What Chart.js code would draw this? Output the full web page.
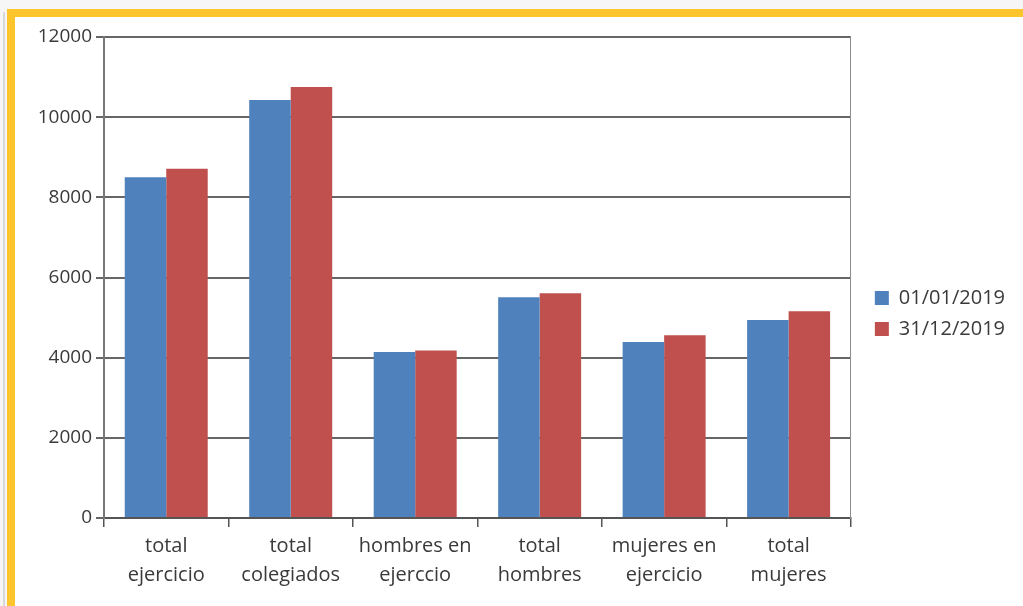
<!DOCTYPE html>
<html>
<head>
<meta charset="utf-8">
<script src="https://cdn.jsdelivr.net/npm/chart.js@4.4.1/dist/chart.umd.min.js"></script>
<style>
    html, body { margin: 0; padding: 0; }
    body { width: 1023px; height: 606px; background: #f6f6f6; overflow: hidden; position: relative; }
    #frame {
        position: absolute; left: 7px; top: 9px; width: 1016px; height: 597px;
        box-sizing: border-box; border-top: 8px solid #fdc52d; border-left: 8px solid #fdc52d;
        background: #fff;
    }
    #edge { position: absolute; left: 3px; top: 12px; width: 2px; height: 594px; background: #d8d8d8; }
    #wrap { position: absolute; left: 16px; top: 17px; width: 1007px; height: 589px; }
</style>
</head>
<body>
<div id="edge"></div>
<div id="frame"></div>
<div id="wrap"><canvas id="chart"></canvas></div>
<script>
const categories = [
    ["total", "ejercicio"],
    ["total", "colegiados"],
    ["hombres en", "ejerccio"],
    ["total", "hombres"],
    ["mujeres en", "ejercicio"],
    ["total", "mujeres"]
]
const seriesNames = ["01/01/2019", "31/12/2019"]
const startValues = [8500, 10430, 4140, 5510, 4390, 4940]
const endValues = [8710, 10750, 4180, 5610, 4560, 5160]
const yTicks = [0, 2000, 4000, 6000, 8000, 10000, 12000]

const chartFont = "'Open Sans', 'Noto Sans', sans-serif"
const textColor = "#3a3a3a"

new Chart(document.getElementById("chart"), {
    type: "bar",
    data: {
        labels: categories,
        datasets: [
            { label: seriesNames[0], data: startValues, backgroundColor: "#4f81bd" },
            { label: seriesNames[1], data: endValues, backgroundColor: "#c0504d" }
        ]
    },
    options: {
        responsive: true,
        maintainAspectRatio: false,
        animation: false,
        categoryPercentage: 2 / 3,
        barPercentage: 1,
        layout: { padding: { top: 20, right: 8, left: 0, bottom: 16 } },
        plugins: {
            tooltip: { enabled: false },
            legend: {
                position: "right",
                align: "center",
                labels: {
                    boxWidth: 14,
                    boxHeight: 14,
                    padding: 11,
                    color: textColor,
                    font: { family: chartFont, size: 20 }
                }
            }
        },
        scales: {
            x: {
                afterFit(scale) { scale.height = 72 },
                grid: {
                    offset: true,
                    drawOnChartArea: false,
                    tickLength: 9,
                    color: "#555",
                    lineWidth: 1.5
                },
                border: { display: true, color: "#555", width: 2 },
                ticks: {
                    color: textColor,
                    padding: 5,
                    maxRotation: 0,
                    font: { family: chartFont, size: 20, lineHeight: 1.45 }
                }
            },
            y: {
                min: 0,
                max: 12000,
                afterFit(scale) { scale.width = 88 },
                afterBuildTicks(scale) { scale.ticks = yTicks.map((v) => ({ value: v })) },
                grid: { color: "#666", lineWidth: 2, tickLength: 8 },
                border: { display: true, color: "#777", width: 2 },
                ticks: {
                    color: textColor,
                    padding: 4,
                    font: { family: chartFont, size: 19 },
                    callback: (value) => String(value)
                }
            },
            // empty right axis: draws the right edge of the plot and leaves a gap before the legend
            yRight: {
                position: "right",
                min: 0,
                max: 12000,
                afterFit(scale) { scale.width = 13 },
                grid: { drawOnChartArea: false, drawTicks: false },
                border: { display: true, color: "#8c8c8c", width: 1 },
                ticks: { display: false }
            }
        }
    }
})
</script>
</body>
</html>
